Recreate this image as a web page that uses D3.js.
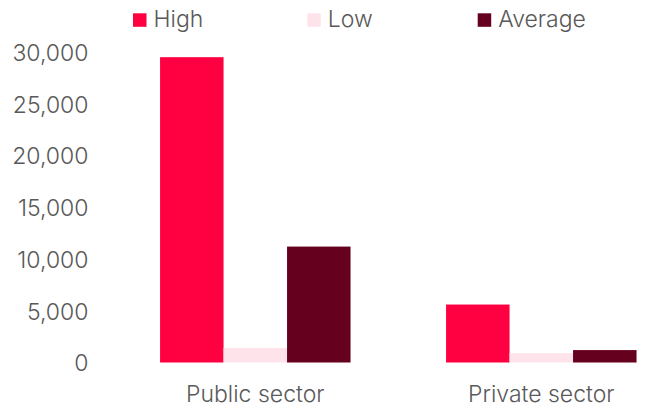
<!DOCTYPE html>
<html>
<head>
<meta charset="utf-8">
<script src="https://cdn.jsdelivr.net/npm/d3@7"></script>
<style>
  html, body { margin: 0; padding: 0; background: #fff; }
  svg { display: block; }
  text { font-family: Inter, Roboto, "Noto Sans", sans-serif; font-weight: 260; fill: #595959; }
</style>
</head>
<body>
<svg id="chart" width="646" height="408"></svg>
<script>
// Pay range by sector
const categories = ["Public sector", "Private sector"];
const seriesNames = ["High", "Low", "Average"];
const highValues = [29500, 5600];
const lowValues = [1400, 900];
const averageValues = [11200, 1200];
const yTicks = [0, 5000, 10000, 15000, 20000, 25000, 30000];
const colors = ["#ff0040", "#ffe3ea", "#65001e"];

const seriesValues = [highValues, lowValues, averageValues];

const svg = d3.select("#chart");
const fontSize = 23;

const y = d3.scaleLinear().domain([0, 30000]).range([362.5, 52]);

const x0 = d3.scaleBand()
  .domain(categories)
  .range([112.3, 684.3])
  .paddingInner(0.334)
  .paddingOuter(0.167);

const x1 = d3.scaleBand()
  .domain(seriesNames)
  .range([0, x0.bandwidth()]);

// Y axis labels only, no line or ticks
const yAxis = d3.axisLeft(y)
  .tickValues(yTicks)
  .tickFormat(d3.format(","))
  .tickSize(0)
  .tickPadding(0);

svg.append("g")
  .attr("transform", "translate(88.5,0)")
  .call(yAxis)
  .call(g => g.select(".domain").remove())
  .selectAll("text")
  .attr("font-size", fontSize)
  .attr("font-family", null)
  .attr("dy", "0.36em")
  .style("fill", "#595959");

// Bars
const groups = svg.append("g")
  .selectAll("g")
  .data(categories)
  .join("g")
  .attr("transform", d => `translate(${x0(d)},0)`);

groups.selectAll("rect")
  .data((c, ci) => seriesNames.map((s, si) => ({ series: s, value: seriesValues[si][ci], color: colors[si] })))
  .join("rect")
  .attr("x", d => x1(d.series))
  .attr("width", x1.bandwidth())
  .attr("y", d => y(d.value))
  .attr("height", d => y(0) - y(d.value))
  .attr("fill", d => d.color);

// Category labels
const xAxis = d3.axisBottom(x0).tickSize(0).tickPadding(0);
svg.append("g")
  .attr("transform", "translate(0,402.3)")
  .call(xAxis)
  .call(g => g.select(".domain").remove())
  .selectAll("text")
  .attr("font-size", fontSize)
  .attr("font-family", null)
  .attr("y", 0)
  .attr("dy", 0)
  .style("fill", "#595959");

// Legend
const legendX = [133, 307.3, 477.7];
const legend = svg.append("g")
  .selectAll("g")
  .data(seriesNames)
  .join("g")
  .attr("transform", (d, i) => `translate(${legendX[i]},13.3)`);

legend.append("rect")
  .attr("width", 13.5)
  .attr("height", 13.5)
  .attr("fill", (d, i) => colors[i]);

legend.append("text")
  .attr("x", 20.5)
  .attr("y", 13.4)
  .attr("font-size", fontSize)
  .text(d => d);
</script>
</body>
</html>
